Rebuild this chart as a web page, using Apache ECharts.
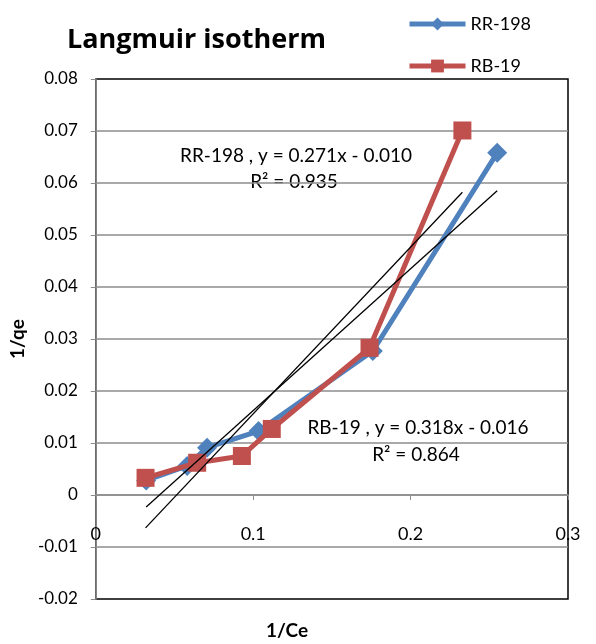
<!DOCTYPE html>
<html>
<head>
<meta charset="utf-8">
<script src="https://cdn.jsdelivr.net/npm/echarts@6/dist/echarts.min.js"></script>
<style>
  html, body { margin: 0; padding: 0; background: #fff; }
  #chart { width: 596px; height: 644px; }
</style>
</head>
<body>
<div id="chart"></div>
<script>
// data
var seriesNames = ["RR-198", "RB-19"];
var rrX = [0.032, 0.058, 0.0707, 0.1034, 0.176, 0.255];
var rrY = [0.0028, 0.0056, 0.0091, 0.0123, 0.0277, 0.0658];
var rbX = [0.0316, 0.0644, 0.0928, 0.1118, 0.1739, 0.2329];
var rbY = [0.0033, 0.0062, 0.0075, 0.0127, 0.0283, 0.0701];
var fitLabels = [
  ["RR-198 , y = 0.271x - 0.010", "R\u00b2 = 0.935"],
  ["RB-19 , y = 0.318x - 0.016", "R\u00b2 = 0.864"]
];

var font = "Lato, 'Open Sans', sans-serif";

function pairs(xs, ys) {
  return xs.map(function (x, i) { return [x, ys[i]]; });
}

// least squares line, drawn from min x to max x like excel does
function trend(xs, ys) {
  var n = xs.length, mx = 0, my = 0;
  for (var i = 0; i < n; i++) { mx += xs[i]; my += ys[i]; }
  mx /= n; my /= n;
  var sxy = 0, sxx = 0;
  for (var j = 0; j < n; j++) {
    sxy += (xs[j] - mx) * (ys[j] - my);
    sxx += (xs[j] - mx) * (xs[j] - mx);
  }
  var b = sxy / sxx, a = my - b * mx;
  var x0 = Math.min.apply(null, xs), x1 = Math.max.apply(null, xs);
  return [[x0, a + b * x0], [x1, a + b * x1]];
}

var myChart = echarts.init(document.getElementById("chart"));
var option = {
  animation: false,
  textStyle: { fontFamily: font },
  grid: {
    left: 93, right: 28, top: 79, bottom: 45,
    show: true,
    borderColor: "#000",
    borderWidth: 1.5
  },
  legend: {
    orient: "vertical",
    left: 402,
    top: 10,
    itemWidth: 56,
    itemHeight: 16,
    itemGap: 24,
    data: seriesNames,
    lineStyle: { width: 5 },
    textStyle: { fontFamily: font, fontSize: 18, color: "#000" }
  },
  graphic: [
    {
      type: "text", left: 67, top: 27,
      style: { text: "Langmuir isotherm", font: "bold 27px 'Open Sans', Lato, sans-serif", fill: "#000" }
    },
    {
      type: "text", x: 287, y: 631,
      style: { text: "1/Ce", font: "bold 19px " + font, fill: "#000", align: "center", verticalAlign: "middle" }
    },
    {
      type: "text", x: 296, y: 156,
      style: { text: fitLabels[0][0], font: "19px " + font, fill: "#000", align: "center", verticalAlign: "middle" }
    },
    {
      type: "text", x: 294, y: 182,
      style: { text: fitLabels[0][1], font: "19px " + font, fill: "#000", align: "center", verticalAlign: "middle" }
    },
    {
      type: "text", x: 418, y: 428,
      style: { text: fitLabels[1][0], font: "19px " + font, fill: "#000", align: "center", verticalAlign: "middle" }
    },
    {
      type: "text", x: 416, y: 455,
      style: { text: fitLabels[1][1], font: "19px " + font, fill: "#000", align: "center", verticalAlign: "middle" }
    }
  ],
  xAxis: {
    type: "value",
    min: 0,
    max: 0.3,
    interval: 0.1,
    // sits on y = 0 like the excel chart; moved up from the bottom edge
    offset: -104,
    axisLine: { onZero: false, lineStyle: { color: "#8c8c8c", width: 1.5 } },
    axisTick: { show: true, length: 5, lineStyle: { color: "#8c8c8c" } },
    axisLabel: {
      margin: 30,
      fontSize: 18,
      color: "#000",
      fontFamily: font,
      formatter: function (v) { return String(parseFloat(v.toFixed(2))); }
    },
    splitLine: { show: false }
  },
  yAxis: {
    type: "value",
    name: "1/qe",
    nameLocation: "middle",
    nameGap: 62,
    nameTextStyle: { fontFamily: font, fontSize: 19, fontWeight: "bold", color: "#000" },
    min: -0.02,
    max: 0.08,
    interval: 0.01,
    axisLine: { show: true, lineStyle: { color: "#8c8c8c", width: 1.5 } },
    axisTick: { show: true, length: 5, lineStyle: { color: "#8c8c8c" } },
    axisLabel: {
      margin: 18,
      fontSize: 17,
      color: "#000",
      fontFamily: font,
      formatter: function (v) { return String(parseFloat(v.toFixed(2))); }
    },
    splitLine: {
      show: true,
      showMinLine: false,
      showMaxLine: false,
      lineStyle: { color: "#8c8c8c", width: 1.5 }
    }
  },
  series: [
    {
      name: seriesNames[0],
      type: "line",
      data: pairs(rrX, rrY),
      symbol: "diamond",
      symbolSize: 20,
      lineStyle: { color: "#4F81BD", width: 5 },
      itemStyle: { color: "#4F81BD" },
      z: 3
    },
    {
      name: seriesNames[1],
      type: "line",
      data: pairs(rbX, rbY),
      symbol: "rect",
      symbolSize: 18,
      lineStyle: { color: "#C0504D", width: 5 },
      itemStyle: { color: "#C0504D" },
      z: 4
    },
    {
      name: "trend-rr",
      type: "line",
      data: trend(rrX, rrY),
      symbol: "none",
      silent: true,
      lineStyle: { color: "#000", width: 1.3 },
      z: 5
    },
    {
      name: "trend-rb",
      type: "line",
      data: trend(rbX, rbY),
      symbol: "none",
      silent: true,
      lineStyle: { color: "#000", width: 1.3 },
      z: 5
    }
  ]
};
myChart.setOption(option);
</script>
</body>
</html>
